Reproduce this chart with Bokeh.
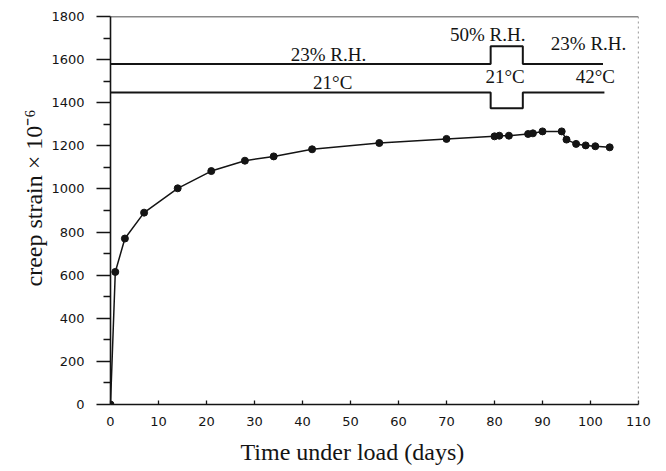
from bokeh.plotting import figure
from bokeh.models import Range1d, Label, Span, FixedTicker, Title
from bokeh.embed import file_html
from bokeh.resources import INLINE

# ---- data ----
days = [0, 1, 3, 7, 14, 21, 28, 34, 42, 56, 70, 80, 81, 83, 87, 88, 90, 94, 95, 97, 99, 101, 104]
strain = [0, 615, 770, 890, 1003, 1083, 1131, 1151, 1184, 1213, 1232, 1244, 1247, 1247,
          1255, 1258, 1267, 1267, 1229, 1209, 1202, 1198, 1193]

# humidity history line (step), and temperature history line (step)
rh_x = [0, 79.2, 79.2, 85.9, 85.9, 102.6]
rh_y = [1580, 1580, 1662, 1662, 1580, 1580]
temp_x = [0, 79.2, 79.2, 85.9, 85.9, 102.9]
temp_y = [1448, 1448, 1374, 1374, 1448, 1448]

cond_text = ["23% R.H.", "21\u00b0C", "50% R.H.", "23% R.H.", "21\u00b0C", "42\u00b0C"]
cond_x = [45.4, 46.3, 78.6, 99.6, 82.2, 101.0]
cond_y = [1623, 1493, 1716, 1674, 1521, 1521]

x_ticks = [0, 10, 20, 30, 40, 50, 60, 70, 80, 90, 100, 110]
y_ticks = [0, 200, 400, 600, 800, 1000, 1200, 1400, 1600, 1800]
x_label = "Time under load (days)"
y_label = "creep strain \u00d7 10\u207b\u2076"

INK = "#141414"
SERIF = "Liberation Serif"

p = figure(frame_width=528, frame_height=388, output_backend="svg", toolbar_location=None,
           x_range=Range1d(0, 110), y_range=Range1d(0, 1800),
           min_border_left=110, min_border_right=28, min_border_top=16, min_border_bottom=67)
p.background_fill_color = "white"
p.border_fill_color = "white"
p.outline_line_color = None
p.grid.visible = False

# axes
xa = p.xaxis[0]
xa.ticker = FixedTicker(ticks=x_ticks)
xa.major_tick_in = 4
xa.major_tick_out = 0
xa.minor_tick_line_color = None
xa.major_label_text_font = "DejaVu Sans"
xa.major_label_text_font_size = "13px"
xa.major_label_text_color = INK
xa.major_label_standoff = 12
xa.axis_line_width = 1.6
xa.axis_line_color = INK
xa.major_tick_line_color = INK
xa.major_tick_line_width = 1.3

ya = p.yaxis[0]
ya.ticker = FixedTicker(ticks=y_ticks, minor_ticks=[v + 100 for v in y_ticks[:-1]])
ya.major_tick_in = 0
ya.major_tick_out = 14
ya.minor_tick_in = 0
ya.minor_tick_out = 7
ya.major_label_text_font = "DejaVu Sans"
ya.major_label_text_font_size = "13px"
ya.major_label_text_color = INK
ya.major_label_standoff = 12
ya.axis_line_width = 1.6
ya.axis_line_color = INK
ya.major_tick_line_color = INK
ya.minor_tick_line_color = INK
ya.major_tick_line_width = 1.3
ya.minor_tick_line_width = 1.3

# axis titles as side titles so they can be shifted like in the original
p.add_layout(Title(text=x_label, text_font=SERIF, text_font_size="24px",
                   text_font_style="normal", text_color=INK, align="left",
                   offset=130, standoff=17), "below")
p.add_layout(Title(text=y_label, text_font=SERIF, text_font_size="24px",
                   text_font_style="normal", text_color=INK, align="left",
                   offset=118, standoff=4), "left")

# frame top and right border
p.add_layout(Span(location=1800, dimension="width", line_color=INK, line_width=1.5))
p.add_layout(Span(location=110, dimension="height", line_color="#555555", line_width=1.2,
                  line_dash="2 3"))

# condition history lines
p.line(rh_x, rh_y, line_color=INK, line_width=2)
p.line(temp_x, temp_y, line_color=INK, line_width=2)

for t, cx, cy in zip(cond_text, cond_x, cond_y):
    p.add_layout(Label(x=cx, y=cy, text=t, text_font=SERIF, text_font_size="19px",
                       text_color=INK, text_align="center", text_baseline="middle"))

# creep curve
p.line(days, strain, line_color=INK, line_width=1.5)
p.scatter(days, strain, size=7, fill_color=INK, line_color=INK)

open("out.html", "w").write(file_html(p, INLINE))
